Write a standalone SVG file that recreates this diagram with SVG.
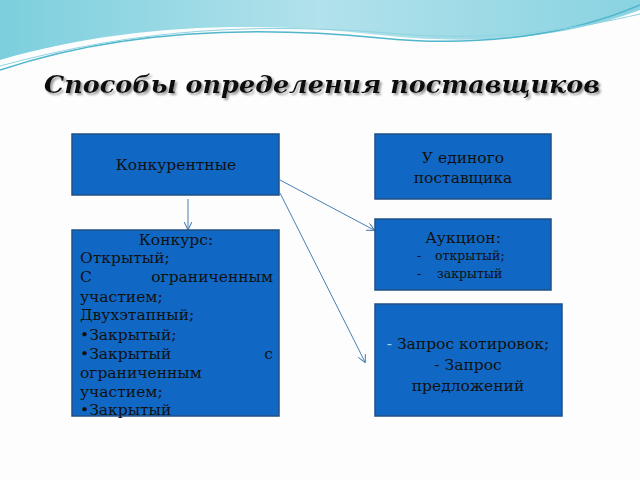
<svg xmlns="http://www.w3.org/2000/svg" width="640" height="480" viewBox="0 0 640 480">
<defs>
<style>
.box{fill:#1068c4;stroke:#1f4f82;stroke-width:1.5}
.t{font-family:"DejaVu Serif",serif;font-size:15.5px;fill:#111}
.s{font-size:12.5px}
.c{text-anchor:middle}
.con{stroke:#4a7fb5;stroke-width:1;fill:none}
</style>
<filter id="sh" x="-5%" y="-30%" width="110%" height="160%"><feDropShadow dx="2" dy="2" stdDeviation="0.8" flood-color="#999"/></filter>
<marker id="a" viewBox="0 0 10 10" refX="9" refY="5" markerWidth="8" markerHeight="8" orient="auto"><path d="M0,0 L10,5 L0,10" fill="none" stroke="#4a7fb5" stroke-width="1.3"/></marker>
<linearGradient id="g" x1="0" y1="0" x2="1" y2="0"><stop offset="0" stop-color="#5cc3d6"/><stop offset="0.5" stop-color="#9fdbe6"/><stop offset="1" stop-color="#6cc8da"/></linearGradient>
</defs>
<rect width="640" height="480" fill="#fdfdfd"/>
<path d="M0,0 H640 V10 C560,40 470,45 380,35 C250,20 120,25 0,60 Z" fill="url(#g)" opacity="0.8"/>
<path d="M0,70 C120,30 250,25 380,38 C480,48 570,35 640,5" fill="none" stroke="#4fb6cc" stroke-width="1.5"/>
<path d="M0,66 C140,28 260,22 400,34 C500,42 580,28 640,14" fill="none" stroke="#8fd3e2" stroke-width="1"/>
<text x="322" y="93" text-anchor="middle" font-family="'DejaVu Serif',serif" font-weight="bold" font-style="italic" font-size="24" fill="#111" textLength="556" lengthAdjust="spacingAndGlyphs" filter="url(#sh)">Способы определения поставщиков</text>
<g id="conn">
<line class="con" x1="188" y1="199" x2="188" y2="229" marker-end="url(#a)"/>
<line class="con" x1="280" y1="180" x2="374" y2="230" marker-end="url(#a)"/>
<line class="con" x1="280" y1="193" x2="365" y2="362" marker-end="url(#a)"/>
</g>
<g id="n1"><rect class="box" x="72" y="134" width="207" height="61"/><text class="t c" x="176" y="170">Конкурентные</text></g>
<g id="n2"><rect class="box" x="375" y="134" width="176" height="65"/><text class="t c" x="463" y="163">У единого</text><text class="t c" x="463" y="183">поставщика</text></g>
<g id="n3"><rect class="box" x="375" y="219" width="176" height="71"/><text class="t c" x="463" y="243">Аукцион:</text><text class="t s" x="417" y="260">-</text><text class="t s" x="435" y="260">открытый;</text><text class="t s" x="417" y="278">-</text><text class="t s" x="437" y="278">закрытый</text></g>
<g id="n4"><rect class="box" x="375" y="304" width="187" height="112"/><text class="t c" x="468" y="349"><tspan fill="#9fdbe6">-</tspan> Запрос котировок;</text><text class="t c" x="468" y="370">- Запрос</text><text class="t c" x="468" y="391">предложений</text></g>
<g id="n5"><rect class="box" x="72" y="230" width="207" height="186"/>
<text class="t c" x="176" y="245">Конкурс:</text>
<text class="t" x="80" y="263">Открытый;</text>
<text class="t" x="80" y="282">С</text><text class="t" x="273" y="282" text-anchor="end">ограниченным</text>
<text class="t" x="80" y="302">участием;</text>
<text class="t" x="80" y="320">Двухэтапный;</text>
<text class="t" x="80" y="340">•Закрытый;</text>
<text class="t" x="80" y="359">•Закрытый</text><text class="t" x="273" y="359" text-anchor="end">с</text>
<text class="t" x="80" y="378">ограниченным</text>
<text class="t" x="80" y="397">участием;</text>
<text class="t" x="80" y="415">•Закрытый</text>
</g>
</svg>
